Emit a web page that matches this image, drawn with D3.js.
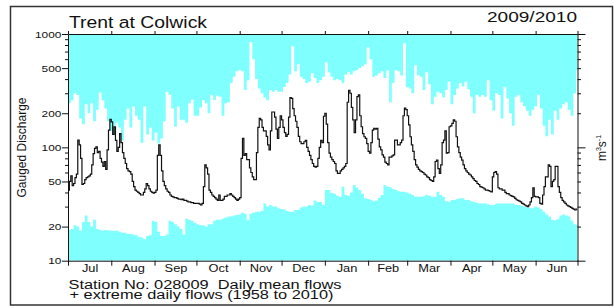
<!DOCTYPE html>
<html lang="en">
<head>
<meta charset="UTF-8">
<title>Trent at Colwick 2009/2010</title>
<script src="https://d3js.org/d3.v7.min.js"></script>
<style>
  body { margin: 0; background: #fff; }
  svg { display: block; font-family: "Liberation Sans", Arial, Helvetica, sans-serif; }
</style>
</head>
<body>
<svg id="chart" width="614" height="307"></svg>
<script>
// water year 2009/2010, one value per day from 1 Jul 2009
const startDate = "2009-07-01";
const endDate = "2010-07-01";

// daily mean flows (m3/s), read month by month Jul..Jun
const meanFlow = [
  42, 50, 56, 46, 48, 54, 58, 116, 105, 80, 47, 48, 52, 54, 55, 56, 58, 70, 88, 98, 101, 90, 92, 80, 74, 68, 75, 64, 95, 142, 177,
  168, 130, 152, 115, 92, 100, 132, 110, 90, 80, 72, 65, 62, 61, 58, 50, 45, 42, 41, 40, 39, 38, 38, 40, 43, 48, 46, 43, 41, 40, 39.5,
  40, 42, 85, 105, 85, 62, 50, 46, 43, 41, 40, 38, 37, 36.5, 36, 36, 35.5, 35, 35, 34.5, 35, 34, 34, 33.5, 33, 33, 32.5, 32.5, 32, 32,
  32, 32, 31.5, 31, 32, 45, 70, 66, 58, 42, 40, 38, 37, 36, 35, 34, 38, 34, 34, 35, 37, 37, 38, 38, 39, 38, 37, 36, 35, 34, 35,
  36, 80, 120, 85, 88, 78, 78, 66, 60, 55, 52, 52, 90, 150, 180, 175, 150, 140, 140, 125, 105, 95, 140, 205, 205, 185, 145, 120, 150, 190,
  175, 150, 135, 125, 130, 185, 275, 270, 220, 190, 170, 150, 125, 112, 108, 108, 112, 115, 100, 92, 85, 78, 72, 68, 67, 68, 80, 100, 115, 110, 188,
  200, 160, 110, 89, 82, 78, 75, 72, 62, 59, 59, 62, 64, 66, 68, 72, 250, 318, 300, 225, 175, 135, 175, 280, 290, 190, 152, 132, 124, 120, 108,
  92, 89, 110, 142, 147, 145, 147, 118, 101, 95, 86, 82, 74, 72, 70, 82, 82, 84, 86, 116, 116, 105, 105, 110, 116, 190, 222, 215,
  190, 158, 124, 105, 92, 78, 70, 67, 64, 62, 61, 60, 58, 57, 55, 54, 52, 51, 50, 55, 75, 77, 65, 59, 70, 110, 116, 140, 89, 90, 152,
  155, 163, 175, 170, 124, 101, 90, 82, 77, 70, 65, 62, 60, 58, 57, 55, 53, 51, 50, 48, 47, 45, 44.5, 44, 43, 42, 42, 41.5, 41, 40.5,
  55, 60, 61, 58, 44, 43, 43, 42, 42, 40, 39, 39, 38, 37.5, 37, 36.5, 35.5, 34.5, 34, 33.5, 33, 32, 31.5, 31, 30.5, 30, 31, 33, 36, 44, 37,
  36.5, 36.5, 36, 32, 31.5, 38, 45, 55, 55, 70, 68, 45, 50, 52, 68, 68, 45, 40, 36, 34, 33, 32, 31, 30.5, 30, 29.5, 29, 28.5, 28, 28.5
];

// extreme daily flows 1958-2010, one value per 2 days
const maxFlow = [
  245, 260, 300, 290, 180, 160, 240, 200, 245, 170, 215, 305, 260, 220, 170, 140, 128, 165, 150, 115,
  175, 220, 150, 229, 190, 175, 110, 229, 130, 150, 115, 135, 108, 120, 170, 310, 290, 220, 152, 229,
  175, 175, 165, 245, 265, 190, 190, 225, 262, 245, 200, 290, 262, 285, 280, 190, 245, 250, 370, 420,
  470, 480, 470, 320, 390, 850, 600, 400, 330, 300, 275, 260, 320, 310, 320, 310, 310, 340, 370, 440,
  780, 470, 540, 420, 400, 370, 380, 450, 410, 370, 390, 420, 560, 460, 420, 390, 400, 390, 370, 440,
  460, 440, 470, 480, 500, 520, 540, 760, 600, 420, 430, 450, 470, 410, 480, 250, 370, 480, 470, 430,
  830, 340, 330, 300, 530, 430, 420, 320, 460, 360, 240, 280, 310, 300, 275, 320, 380, 240, 290, 330,
  370, 345, 380, 325, 280, 200, 290, 280, 290, 280, 390, 260, 210, 300, 290, 180, 340, 270, 200, 155,
  280, 290, 250, 230, 210, 190, 215, 230, 290, 220, 155, 125, 175, 130, 210, 175, 220, 240, 250, 215,
  190, 300, 480
];
const minFlow = [
  18.7, 19, 20.5, 20, 18.5, 22, 25, 22, 20, 23, 19, 18.7, 18.5, 18.7, 18.5, 18.5, 18.3, 18.5, 18, 17.6,
  17.6, 17.2, 17.2, 17, 16.8, 16.3, 16, 15.5, 16.5, 16.8, 22.5, 22, 18, 16.5, 16.5, 17, 22.5, 22, 21, 20,
  19, 17, 23.5, 23, 22.5, 21.5, 21, 20.5, 20.5, 20, 21, 21, 22.5, 23, 23, 23.5, 24, 24.5, 24.5, 25,
  25.3, 25.5, 26.5, 26, 22.8, 26, 26.5, 27, 27, 27.5, 32, 30, 31, 30, 30, 29, 28.5, 28.5, 27.5, 27,
  27, 28, 28, 29.5, 30, 30, 31, 30.5, 34, 33, 33, 31, 42, 42, 39.5, 39, 37.5, 36.7, 45, 38,
  37.5, 40, 46.5, 44, 42, 39, 35.5, 35, 34.4, 33.5, 34, 36, 38, 46.6, 45, 44.5, 43, 42, 41, 40.6,
  40.6, 40, 39, 38, 36.7, 36.7, 36.7, 37, 38, 37.5, 36.7, 36.7, 40.6, 38, 36.7, 33.5, 33.2, 34.4, 34.4, 35,
  35.5, 35.5, 34.4, 34.4, 33.5, 33, 32.5, 32, 32, 32, 31.5, 31, 31, 32, 32, 32, 32, 32, 32, 32,
  31, 31, 30.5, 30, 29.5, 29.3, 29, 30, 29.5, 28.5, 27, 25.5, 24.5, 23, 22.8, 23.2, 25, 25.5, 25, 24.5,
  22.5, 21, 20.7
];

const monthLabels = ["Jul", "Aug", "Sep", "Oct", "Nov", "Dec", "Jan", "Feb", "Mar", "Apr", "May", "Jun"];
const yMajor = [10, 20, 50, 100, 200, 500, 1000];
const yMinor = [30, 40, 60, 70, 80, 90, 300, 400, 600, 700, 800, 900];

const svg = d3.select("#chart");
const plotLeft = 68, plotRight = 577.5, plotTop = 34, plotBottom = 260.7;

const t0 = d3.utcParse("%Y-%m-%d")(startDate);
const t1 = d3.utcParse("%Y-%m-%d")(endDate);

const x = d3.scaleUtc().domain([t0, t1]).range([plotLeft, plotRight]);
const y = d3.scaleLog().domain([10, 1000]).range([plotBottom, plotTop]);

function toPoints(values, step) {
  const pts = values.map((v, i) => ({ date: d3.utcDay.offset(t0, i * step), v: v }));
  pts.push({ date: t1, v: values[values.length - 1] });
  return pts;
}

// outer frame
svg.append("rect")
  .attr("x", 10.5).attr("y", 6.5)
  .attr("width", 602).attr("height", 298.5)
  .attr("fill", "none").attr("stroke", "#333").attr("stroke-width", 1.5);

svg.append("clipPath").attr("id", "plotclip")
  .append("rect")
  .attr("x", plotLeft).attr("y", plotTop)
  .attr("width", plotRight - plotLeft).attr("height", plotBottom - plotTop);

const plot = svg.append("g").attr("clip-path", "url(#plotclip)");

const cyan = "#80ffff";

plot.append("path")
  .datum(toPoints(maxFlow, 2))
  .attr("fill", cyan)
  .attr("d", d3.area().curve(d3.curveStepAfter)
    .x(d => x(d.date)).y0(y(1000)).y1(d => y(Math.min(d.v, 1000))));

plot.append("path")
  .datum(toPoints(minFlow, 2))
  .attr("fill", cyan)
  .attr("d", d3.area().curve(d3.curveStepAfter)
    .x(d => x(d.date)).y0(y(10)).y1(d => y(d.v)));

plot.append("path")
  .datum(toPoints(meanFlow, 1))
  .attr("fill", "none")
  .attr("stroke", "#111")
  .attr("stroke-width", 1.2)
  .attr("d", d3.line().curve(d3.curveStepAfter).x(d => x(d.date)).y(d => y(d.v)));

// axes
function clean(g) {
  g.attr("font-family", null).attr("font-size", null);
  g.selectAll("path, line").attr("stroke", "#111");
}

svg.append("g")
  .attr("transform", `translate(0,${plotTop})`)
  .call(d3.axisTop(x).ticks(d3.utcMonth.every(1)).tickSize(3).tickSizeOuter(0).tickFormat(""))
  .call(clean);

svg.append("g")
  .attr("transform", `translate(0,${plotBottom})`)
  .call(d3.axisBottom(x).ticks(d3.utcMonth.every(1)).tickSize(5).tickSizeOuter(0).tickFormat(""))
  .call(clean);

const midMonths = monthLabels.map((m, i) => {
  const a = d3.utcMonth.offset(t0, i), b = d3.utcMonth.offset(t0, i + 1);
  return new Date((+a + +b) / 2);
});

svg.append("g")
  .attr("transform", `translate(0,${plotBottom})`)
  .call(d3.axisBottom(x).tickValues(midMonths).tickSize(0).tickPadding(4.5)
    .tickFormat((d, i) => monthLabels[i]))
  .call(clean)
  .call(g => g.select(".domain").remove())
  .call(g => g.selectAll("text")
    .style("font-size", "10px")
    .attr("fill", "#111")
    .attr("transform", "scale(1.28,1)"));

svg.append("g")
  .attr("transform", `translate(${plotLeft},0)`)
  .call(d3.axisLeft(y).tickValues(yMajor).tickSize(6).tickSizeOuter(0).tickFormat(d3.format("d")))
  .call(clean)
  .call(g => g.selectAll("text")
    .attr("x", -5.3)
    .style("font-size", "9.5px")
    .attr("fill", "#111")
    .attr("transform", "scale(1.25,1)"));

svg.append("g")
  .attr("transform", `translate(${plotLeft},0)`)
  .call(d3.axisLeft(y).tickValues(yMinor).tickSize(3).tickFormat(""))
  .call(clean)
  .call(g => g.select(".domain").remove());

svg.append("g")
  .attr("transform", `translate(${plotRight},0)`)
  .call(d3.axisRight(y).tickValues(yMajor.concat(yMinor)).tickSizeOuter(0).tickFormat(""))
  .call(clean)
  .call(g => g.selectAll(".tick line")
    .attr("x2", d => (Math.log10(d) % 1 === 0 ? 8 : 3.5)));

// texts
svg.append("text")
  .attr("x", 69).attr("y", 28.3)
  .attr("textLength", 138).attr("lengthAdjust", "spacingAndGlyphs")
  .style("font-size", "16.3px").attr("fill", "#111")
  .text("Trent at Colwick");

svg.append("text")
  .attr("x", 487).attr("y", 21.7)
  .attr("textLength", 90).attr("lengthAdjust", "spacingAndGlyphs")
  .style("font-size", "14px").attr("fill", "#111")
  .text("2009/2010");

svg.append("text")
  .attr("transform", "translate(25.5,147.5) rotate(-90)")
  .attr("text-anchor", "middle")
  .style("font-size", "12px").attr("fill", "#111")
  .text("Gauged Discharge");

const unit = svg.append("text")
  .attr("transform", "translate(606,148) rotate(-90)")
  .attr("text-anchor", "middle")
  .style("font-size", "12px").attr("fill", "#111");
unit.append("tspan").text("m");
unit.append("tspan").attr("dy", -5).style("font-size", "7px").text("3");
unit.append("tspan").attr("dy", 5).text("s");
unit.append("tspan").attr("dy", -5).style("font-size", "7px").text("-1");

svg.append("text")
  .attr("x", 68.5).attr("y", 288.6)
  .attr("textLength", 273).attr("lengthAdjust", "spacingAndGlyphs")
  .style("font-size", "12.5px").style("white-space", "pre").attr("fill", "#111")
  .text("Station No: 028009  Daily mean flows");

svg.append("text")
  .attr("x", 69.5).attr("y", 298.8)
  .attr("textLength", 264).attr("lengthAdjust", "spacingAndGlyphs")
  .style("font-size", "12.5px").attr("fill", "#111")
  .text("+ extreme daily flows (1958 to 2010)");
</script>
</body>
</html>
